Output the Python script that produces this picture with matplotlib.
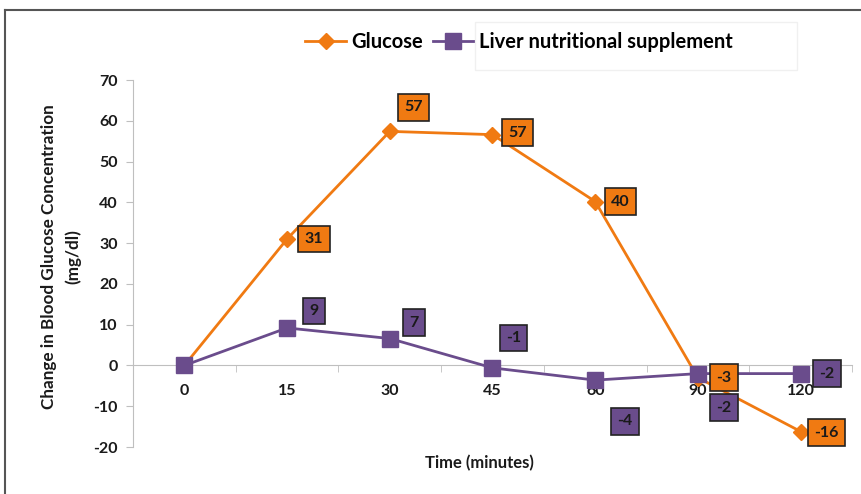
import matplotlib.pyplot as plt
from matplotlib.lines import Line2D
from matplotlib.patches import Rectangle

# data
times = ["0", "15", "30", "45", "60", "90", "120"]
glucose = [0, 31, 57.4, 56.6, 40.2, -3, -16.2]
glucose_labels = [None, "31", "57", "57", "40", "-3", "-16"]
liver = [0, 9.2, 6.6, -0.6, -3.6, -2, -2]
liver_labels = [None, "9", "7", "-1", "-4", "-2", "-2"]
yticks = [-20, -10, 0, 10, 20, 30, 40, 50, 60, 70]

ORANGE = "#f07a12"
PURPLE = "#6a4c8c"
GRAY = "#bfbfbf"

# label offsets in pixels (dx right, dy down) relative to each point
g_off = [None, (27, 0), (24, -24), (25, -2), (25, 0), (26, 0), (26, 1)]
l_off = [None, (27, -17), (24, -16), (21, -30), (30, 41), (26, 34), (26, 0)]

plt.rcParams["font.family"] = ["Lato", "DejaVu Sans"]
plt.rcParams["font.weight"] = "bold"
plt.rcParams["axes.unicode_minus"] = False

fig = plt.figure(figsize=(8.62, 4.94), dpi=100)
ax = fig.add_axes([133 / 862, 1 - 447 / 494, 719 / 862, 367 / 494])

x = list(range(len(times)))
ax.plot(x, glucose, color=ORANGE, lw=2, marker="D", ms=8, label="Glucose", zorder=3)
ax.plot(x, liver, color=PURPLE, lw=2, marker="s", ms=11,
        label="Liver nutritional supplement", zorder=4)

def put_labels(vals, labels, offs, col):
    for i, (v, lab, off) in enumerate(zip(vals, labels, offs)):
        if lab is None:
            continue
        ax.annotate(lab, (i, v), xytext=(off[0] * 0.72, -off[1] * 0.72),
                    textcoords="offset points", ha="center", va="center",
                    fontsize=11.5, fontweight="bold", color="#1a1a1a", zorder=6,
                    bbox=dict(boxstyle="square,pad=0.4", fc=col, ec="#222222", lw=1.2))

put_labels(glucose, glucose_labels, g_off, ORANGE)
put_labels(liver, liver_labels, l_off, PURPLE)

ax.set_xlim(-0.5, 6.5)
ax.set_ylim(-20, 70)
ax.set_yticks(yticks)
ax.set_xticks(x)
ax.set_xticklabels(times)
ax.set_xticks([i + 0.5 for i in range(-1, 7)], minor=True)

for s in ["top", "right"]:
    ax.spines[s].set_visible(False)
ax.spines["bottom"].set_position(("data", 0))
ax.spines["bottom"].set_color(GRAY)
ax.spines["left"].set_color(GRAY)
ax.tick_params(axis="y", colors=GRAY, length=5, labelcolor="#1a1a1a", labelsize=11.5, pad=6)
ax.tick_params(axis="x", which="major", length=0, labelcolor="#1a1a1a", labelsize=11.5, pad=13)
ax.tick_params(axis="x", which="minor", length=5, color=GRAY)
for t in ax.get_xticklabels() + ax.get_yticklabels():
    t.set_fontweight("bold")

fig.text(61 / 862, 1 - 257 / 494, "Change in Blood Glucose Concentration\n(mg/dl)",
         rotation=90, ha="center", va="center", fontsize=12.3, fontweight="bold",
         color="#1a1a1a", linespacing=1.6)
fig.text(479 / 862, 1 - 463 / 494, "Time (minutes)", ha="center", va="center",
         fontsize=12, fontweight="bold", color="#1a1a1a")

fig.add_artist(Rectangle((475 / 862, 1 - 70 / 494), 322 / 862, 48 / 494,
                         transform=fig.transFigure, fill=False, ec="#f0f0f0", lw=1))
fig.legend(loc="center", bbox_to_anchor=(519 / 862, 1 - 42 / 494), ncol=2, frameon=False,
           fontsize=14.5, handlelength=2.0, columnspacing=0.45, handletextpad=0.3)

# outer frame lines (top and left)
fig.add_artist(Line2D([5 / 862, 1], [1 - 10 / 494, 1 - 10 / 494], transform=fig.transFigure,
                      color="#555555", lw=1.5))
fig.add_artist(Line2D([5 / 862, 5 / 862], [0, 1 - 10 / 494], transform=fig.transFigure,
                      color="#555555", lw=1.5))

fig.savefig("out.png", dpi=100)
